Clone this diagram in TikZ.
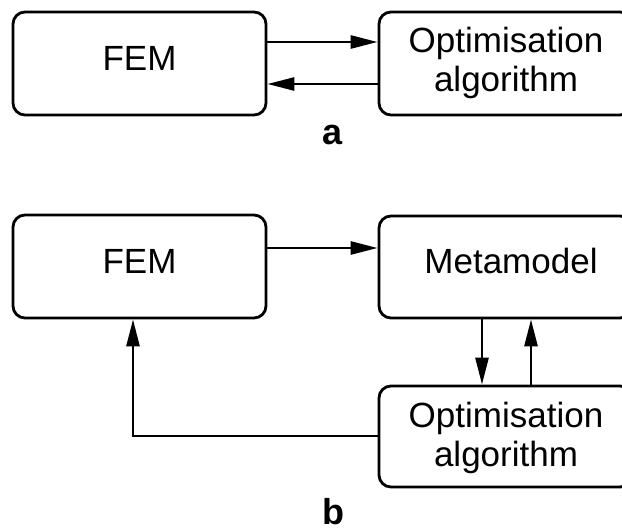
\documentclass[tikz,border=0pt]{standalone}
\usepackage{fontspec}
\setmainfont{Liberation Sans}
\usetikzlibrary{arrows.meta}
\begin{document}
\begin{tikzpicture}[x=1pt,y=-1pt,
  box/.style={draw,line width=2.8pt,rounded corners=12pt,minimum width=#1,inner sep=0pt},
  txt/.style={anchor=base,inner sep=0pt,font=\fontsize{35}{39}\selectfont},
  lbl/.style={anchor=base,inner sep=0pt,font=\fontsize{36}{40}\selectfont\bfseries},
  conn/.style={line width=2.7pt,-{Triangle[length=27pt,width=13pt]}}]
\useasboundingbox (0,0) rectangle (622,532);
\clip (0,0) rectangle (622,532);
% part a
\node[box=253pt,minimum height=103pt] (femA) at (139.5,63.5) {};
\node[box=253pt,minimum height=103pt] (optA) at (505.5,63.5) {};
\node[txt] (femAt) at (139.5,71) {FEM};
\node[txt] (optAt1) at (506,53) {Optimisation};
\node[txt] (optAt2) at (506,92) {algorithm};
\node[lbl] (la) at (333,145) {a};
\draw[conn] (femA.east |- 0,42) -- (optA.west |- 0,42);
\draw[conn] (optA.west |- 0,84) -- (femA.east |- 0,84);
% part b
\node[box=253pt,minimum height=103pt] (femB) at (139.5,266.5) {};
\node[box=253pt,minimum height=102pt] (meta) at (505.5,267) {};
\node[box=253pt,minimum height=101pt] (optB) at (505.5,436.5) {};
\node[txt] (femBt) at (139.5,273) {FEM};
\node[txt] (metat) at (511,274) {Metamodel};
\node[txt] (optBt1) at (506,427) {Optimisation};
\node[txt] (optBt2) at (506,466) {algorithm};
\node[lbl] (lb) at (333,524) {b};
\draw[conn] (femB.east |- 0,248) -- (meta.west |- 0,248);
\draw[conn] (meta.south -| 482,0) -- (optB.north -| 482,0);
\draw[conn] (optB.north -| 531,0) -- (meta.south -| 531,0);
\coordinate (corner) at (133,436);
\draw[conn] (optB.west |- corner) -- (corner) -- (femB.south -| corner);
\end{tikzpicture}
\end{document}
